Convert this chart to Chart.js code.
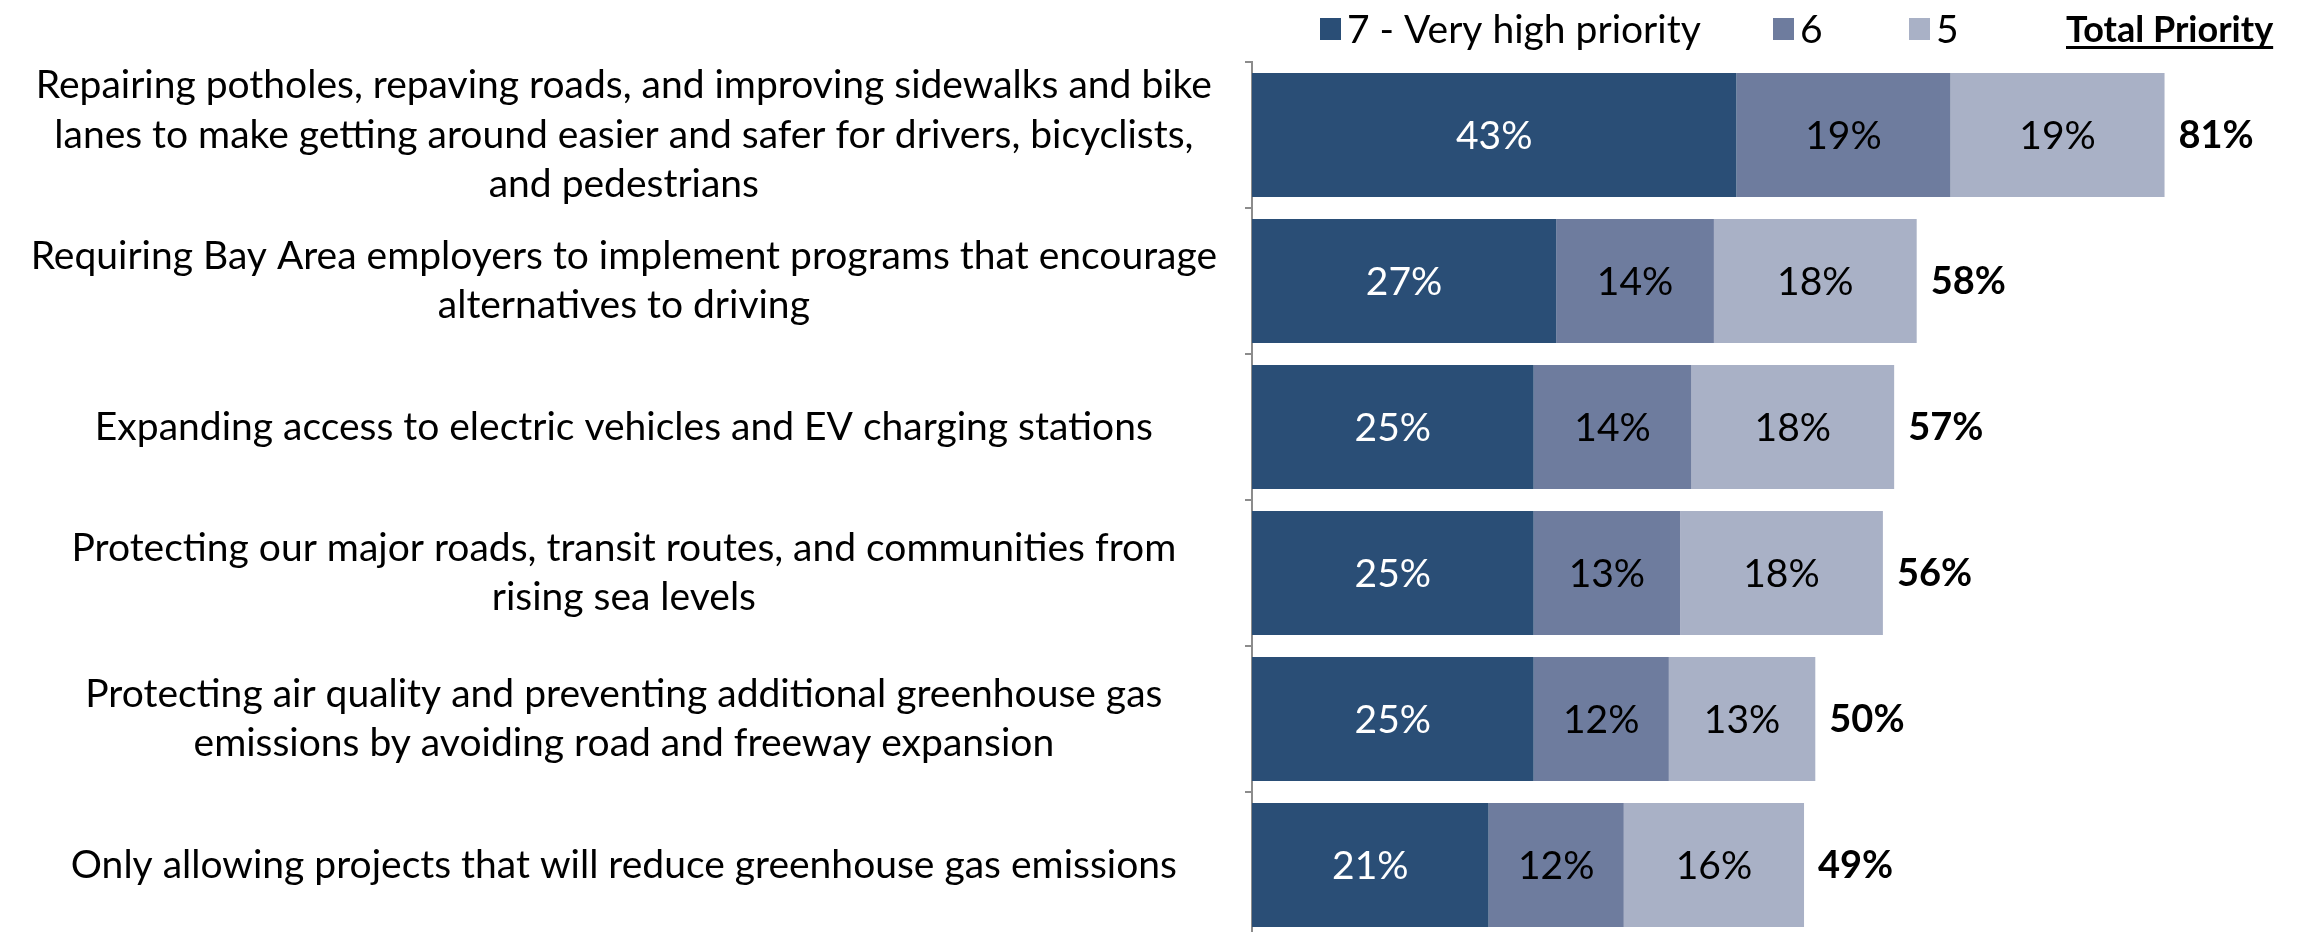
<!DOCTYPE html>
<html>
<head>
<meta charset="utf-8">
<script src="https://cdn.jsdelivr.net/npm/chart.js@4.4.0/dist/chart.umd.min.js"></script>
<style>
  html, body { margin: 0; padding: 0; background: #fff; overflow: hidden; }
  #wrap { width: 2311px; height: 940px; position: relative; }
</style>
</head>
<body>
<div id="wrap"><canvas id="priorityChart"></canvas></div>
<script>
// survey items, top to bottom
const categories = [
    ['Repairing potholes, repaving roads, and improving sidewalks and bike', 'lanes to make getting around easier and safer for drivers, bicyclists,', 'and pedestrians'],
    ['Requiring Bay Area employers to implement programs that encourage', 'alternatives to driving'],
    ['Expanding access to electric vehicles and EV charging stations'],
    ['Protecting our major roads, transit routes, and communities from', 'rising sea levels'],
    ['Protecting air quality and preventing additional greenhouse gas', 'emissions by avoiding road and freeway expansion'],
    ['Only allowing projects that will reduce greenhouse gas emissions']
];

const seriesLabels = ['7 - Very high priority', '6', '5'];
const veryHigh = [43, 27, 25, 25, 25, 21];
const six = [19, 14, 14, 13, 12, 12];
const five = [19, 18, 18, 18, 13, 16];
const totalPriority = [81, 58, 57, 56, 50, 49];

const FONT = 'Lato, "Open Sans", sans-serif';

// value labels inside each segment + totals at bar ends
const barLabels = {
    id: 'barLabels',
    afterDatasetsDraw(chart) {
        const ctx = chart.ctx;
        ctx.save();
        ctx.textBaseline = 'middle';
        ctx.font = '39px ' + FONT;
        ctx.textAlign = 'center';
        chart.data.datasets.forEach((ds, di) => {
            const meta = chart.getDatasetMeta(di);
            meta.data.forEach((bar, i) => {
                const p = bar.getCenterPoint();
                ctx.fillStyle = di === 0 ? '#ffffff' : '#000000';
                ctx.fillText(ds.data[i] + '%', p.x, p.y + 1);
            });
        });
        ctx.font = 'bold 38px ' + FONT;
        ctx.textAlign = 'left';
        ctx.fillStyle = '#000000';
        const last = chart.getDatasetMeta(chart.data.datasets.length - 1);
        last.data.forEach((bar, i) => {
            ctx.fillText(totalPriority[i] + '%', bar.x + 14, bar.y + 1);
        });
        ctx.restore();
    }
};

// legend row along the top, plus the underlined "Total Priority" header
const topLegend = {
    id: 'topLegend',
    afterDraw(chart) {
        const ctx = chart.ctx;
        const startX = [1320, 1773, 1909];
        const y = 29;
        ctx.save();
        ctx.textBaseline = 'middle';
        ctx.textAlign = 'left';
        ctx.font = '39px ' + FONT;
        chart.data.datasets.forEach((ds, i) => {
            ctx.fillStyle = ds.backgroundColor;
            ctx.fillRect(startX[i], y - 11, 21, 22);
            ctx.fillStyle = '#000000';
            ctx.fillText(ds.label, startX[i] + 27, y + 1);
        });
        ctx.font = 'bold 36px ' + FONT;
        const title = 'Total Priority';
        const w = ctx.measureText(title).width;
        const tx = 2066;
        ctx.fillText(title, tx, y + 1);
        ctx.fillRect(tx, y + 17, w, 3);
        ctx.restore();
    }
};

const ctx = document.getElementById('priorityChart').getContext('2d');
new Chart(ctx, {
    type: 'bar',
    data: {
        labels: categories,
        datasets: [
            { label: seriesLabels[0], data: veryHigh, backgroundColor: '#2a4e76' },
            { label: seriesLabels[1], data: six, backgroundColor: '#6e7c9e' },
            { label: seriesLabels[2], data: five, backgroundColor: '#a9b1c6' }
        ]
    },
    options: {
        indexAxis: 'y',
        responsive: true,
        maintainAspectRatio: false,
        animation: false,
        layout: { padding: { top: 62, bottom: 2, left: 0, right: 0 } },
        datasets: {
            bar: { categoryPercentage: 1.0, barPercentage: 0.85, borderWidth: 0 }
        },
        scales: {
            x: {
                stacked: true,
                display: false,
                min: 0,
                max: 94
            },
            y: {
                stacked: true,
                afterFit(scale) {
                    scale.width = 1252;
                    scale.paddingTop = 0;
                    scale.paddingBottom = 0;
                },
                border: { display: true, color: '#8c8c8c', width: 2 },
                grid: {
                    display: true,
                    drawOnChartArea: false,
                    offset: true,
                    tickLength: 7,
                    color: '#8c8c8c',
                    lineWidth: 2
                },
                ticks: {
                    autoSkip: false,
                    crossAlign: 'center',
                    padding: 28,
                    color: '#000000',
                    font: { family: FONT, size: 39, lineHeight: 1.26 }
                }
            }
        },
        plugins: {
            legend: { display: false },
            tooltip: { enabled: false }
        }
    },
    plugins: [barLabels, topLegend]
});
</script>
</body>
</html>
